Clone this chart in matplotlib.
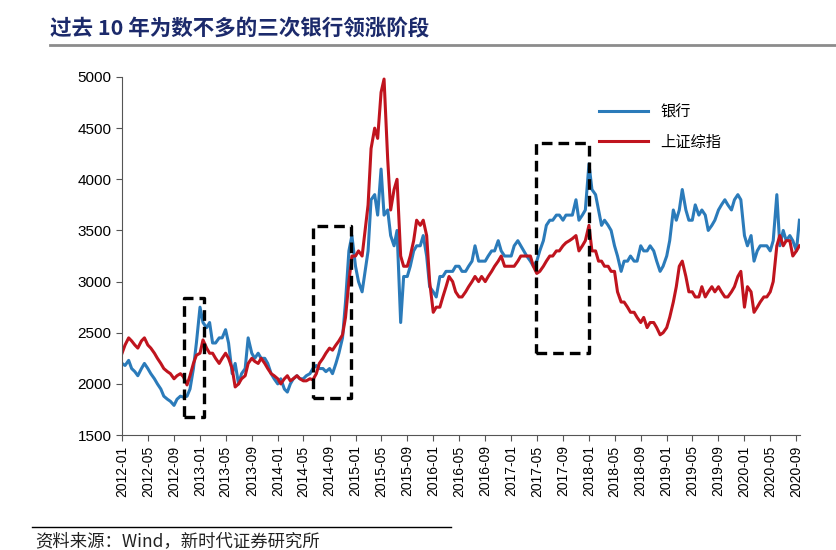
import pandas as pd
import matplotlib
matplotlib.use("Agg")
import matplotlib.pyplot as plt
import matplotlib.dates as mdates

plt.rcParams['font.family'] = ['Liberation Sans', 'Noto Sans CJK SC', 'DejaVu Sans']

# semi-monthly readings (1st and 16th of each month), 2012-01 .. 2020-09
dates = pd.date_range("2012-01-01", "2020-09-16", freq="SMS")

bank = [
    # 2012
    2200, 2180, 2230, 2150, 2120, 2080, 2150, 2200, 2150, 2100, 2050, 2000,
    1950, 1880, 1850, 1830, 1790, 1850, 1880, 1870, 1880, 1950, 2150, 2400,
    # 2013
    2750, 2600, 2550, 2600, 2400, 2400, 2450, 2450, 2530, 2400, 2100, 2200,
    2000, 2100, 2150, 2450, 2300, 2250, 2300, 2250, 2250, 2200, 2100, 2050,
    # 2014
    2000, 2050, 1950, 1920, 2000, 2050, 2080, 2050, 2050, 2080, 2100, 2150,
    2180, 2150, 2150, 2120, 2150, 2100, 2200, 2300, 2450, 2800, 3300, 3450,
    # 2015
    3150, 3000, 2900, 3100, 3300, 3800, 3850, 3650, 4100, 3650, 3700, 3450,
    3350, 3500, 2600, 3050, 3050, 3150, 3300, 3350, 3350, 3450, 3250, 2950,
    # 2016
    2900, 2850, 3050, 3050, 3100, 3100, 3100, 3150, 3150, 3100, 3100, 3150,
    3200, 3350, 3200, 3200, 3200, 3250, 3300, 3300, 3400, 3300, 3250, 3250,
    # 2017
    3250, 3350, 3400, 3350, 3300, 3250, 3200, 3150, 3200, 3300, 3400, 3550,
    3600, 3600, 3650, 3650, 3600, 3650, 3650, 3650, 3800, 3600, 3650, 3700,
    # 2018
    4150, 3900, 3850, 3700, 3550, 3600, 3550, 3500, 3350, 3250, 3100, 3200,
    3200, 3250, 3200, 3200, 3350, 3300, 3300, 3350, 3300, 3200, 3100, 3150,
    # 2019
    3250, 3400, 3700, 3600, 3700, 3900, 3700, 3600, 3600, 3750, 3650, 3700,
    3650, 3500, 3550, 3600, 3700, 3750, 3800, 3750, 3700, 3800, 3850, 3800,
    # 2020
    3450, 3350, 3450, 3200, 3300, 3350, 3350, 3350, 3300, 3400, 3850, 3350,
    3500, 3400, 3450, 3400, 3300, 3600,
]

sse = [
    # 2012
    2300, 2380, 2450, 2420, 2380, 2350, 2420, 2450, 2380, 2350, 2300, 2250,
    2200, 2150, 2120, 2100, 2050, 2080, 2100, 2070, 1990, 2080, 2200, 2280,
    # 2013
    2300, 2430, 2350, 2300, 2300, 2250, 2200, 2250, 2300, 2250, 2150, 1970,
    2000, 2050, 2080, 2200, 2250, 2220, 2200, 2250, 2200, 2150, 2100, 2080,
    # 2014
    2050, 2000, 2050, 2080, 2030, 2050, 2080, 2050, 2030, 2030, 2050, 2040,
    2100, 2200, 2250, 2300, 2350, 2330, 2380, 2420, 2480, 2650, 3000, 3250,
    # 2015
    3250, 3300, 3250, 3500, 3750, 4300, 4500, 4400, 4850, 4980, 4200, 3700,
    3900, 4000, 3250, 3150, 3150, 3250, 3400, 3600, 3550, 3600, 3450, 3000,
    # 2016
    2700, 2750, 2750, 2850, 2950, 3050, 3000, 2900, 2850, 2850, 2900, 2950,
    3000, 3050, 3000, 3050, 3000, 3050, 3100, 3150, 3200, 3250, 3150, 3150,
    # 2017
    3150, 3150, 3200, 3250, 3250, 3250, 3250, 3150, 3080, 3100, 3150, 3200,
    3250, 3250, 3300, 3300, 3350, 3380, 3400, 3420, 3450, 3300, 3350, 3400,
    # 2018
    3550, 3300, 3300, 3200, 3200, 3150, 3150, 3100, 3100, 2900, 2800, 2800,
    2750, 2700, 2700, 2650, 2600, 2650, 2550, 2600, 2600, 2550, 2480, 2500,
    # 2019
    2550, 2650, 2800, 2950, 3150, 3200, 3050, 2900, 2900, 2850, 2850, 2950,
    2850, 2900, 2950, 2900, 2950, 2900, 2850, 2850, 2900, 2950, 3050, 3100,
    # 2020
    2750, 2950, 2900, 2700, 2750, 2800, 2850, 2850, 2900, 3000, 3350, 3450,
    3350, 3400, 3400, 3250, 3300, 3350,
]

# the three dashed boxes: (start, end, low, high)
box_start = ["2012-10-17", "2014-06-14", "2017-04-26"]
box_end = ["2013-01-18", "2014-12-10", "2018-01-01"]
box_low = [1680, 1860, 2300]
box_high = [2840, 3540, 4350]

fig = plt.figure(figsize=(8.36, 5.5), dpi=100)
ax = fig.add_axes([0.146, 0.209, 0.811, 0.651])

ax.plot(dates, bank, color='#2b7bba', lw=2.2, label='银行')
ax.plot(dates, sse, color='#c0141e', lw=2.2, label='上证综指')

for s, e, lo, hi in zip(box_start, box_end, box_low, box_high):
    s, e = pd.Timestamp(s), pd.Timestamp(e)
    ax.plot([s, e, e, s, s], [lo, lo, hi, hi, lo], color='black',
            lw=2.4, ls=(0, (3.2, 1.8)))

ax.set_ylim(1500, 5000)
ax.set_yticks(range(1500, 5001, 500))
ax.set_xlim(pd.Timestamp("2012-01-01"), pd.Timestamp("2020-09-18"))
ax.xaxis.set_major_locator(mdates.MonthLocator(bymonth=[1, 5, 9]))
ax.xaxis.set_major_formatter(mdates.DateFormatter('%Y-%m'))
ax.tick_params(axis='x', labelrotation=90, labelsize=10, length=4, color='#555555')
ax.tick_params(axis='y', labelsize=11, length=4, color='#555555')

for side in ['top', 'right']:
    ax.spines[side].set_visible(False)
for side in ['left', 'bottom']:
    ax.spines[side].set_color('#555555')

ax.legend(loc='upper left', bbox_to_anchor=(0.683, 0.96), frameon=False,
          fontsize=11, handlelength=3.2, labelspacing=1.05)

fig.text(0.06, 0.948, '过去 10 年为数不多的三次银行领涨阶段', fontsize=15.5,
         fontweight='bold', color='#1c2a6b', va='center',
         family=['Noto Sans CJK SC', 'DejaVu Sans'])
fig.add_artist(plt.Line2D([0.06, 1.0], [0.918, 0.918], color='#8c8c8c', lw=2))

fig.add_artist(plt.Line2D([0.038, 0.54], [0.042, 0.042], color='black', lw=1))
fig.text(0.042, 0.016, '资料来源：Wind，新时代证券研究所', fontsize=12.5,
         color='#222222', va='center', family=['Noto Sans CJK SC', 'DejaVu Sans'])

fig.savefig('out.png', dpi=100)
